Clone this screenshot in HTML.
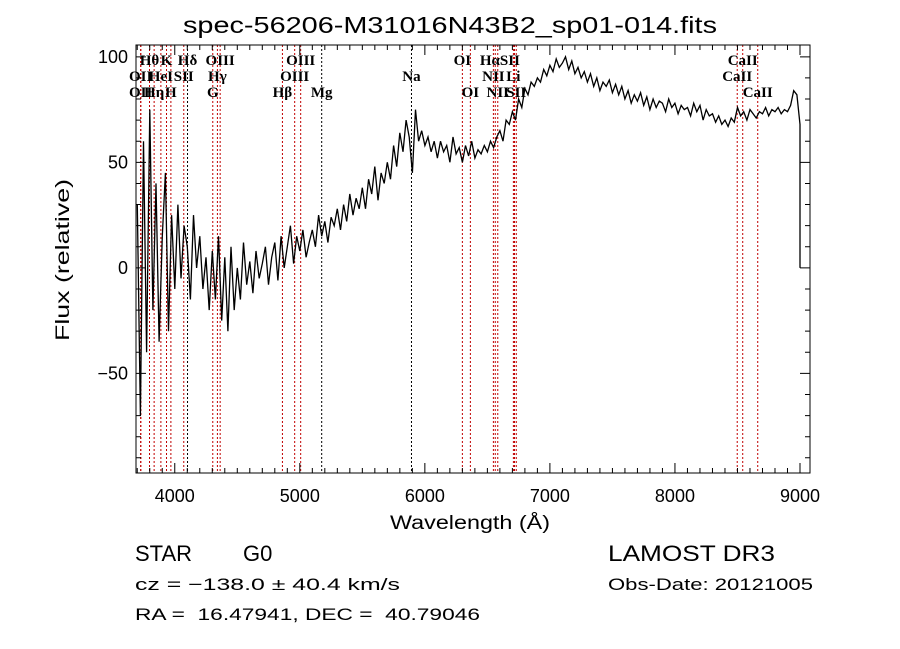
<!DOCTYPE html>
<html><head><meta charset="utf-8"><style>
html,body{margin:0;padding:0;background:#fff;}
svg{display:block;}
text{font-family:"Liberation Sans",sans-serif;fill:#000;white-space:pre;}
text.lab{font-family:"Liberation Serif",serif;font-size:15px;font-weight:bold;}
</style></head><body>
<svg id="chart" width="900" height="649" viewBox="0 0 900 649" xml:space="preserve">
<text x="450" y="33" text-anchor="middle" font-size="23" textLength="534" lengthAdjust="spacingAndGlyphs">spec-56206-M31016N43B2_sp01-014.fits</text>
<g id="lines"></g>
<g id="labels"></g>
<g id="spec"></g>
<g id="axes"></g>
<text x="470" y="529" text-anchor="middle" font-size="19" textLength="160" lengthAdjust="spacingAndGlyphs">Wavelength (Å)</text>
<text transform="translate(69,260) rotate(-90)" text-anchor="middle" font-size="19" textLength="162" lengthAdjust="spacingAndGlyphs">Flux (relative)</text>
<text x="135" y="561" font-size="22">STAR</text>
<text x="243" y="561" font-size="22">G0</text>
<text x="608" y="561" font-size="22" textLength="167" lengthAdjust="spacingAndGlyphs">LAMOST DR3</text>
<text x="135" y="590" font-size="17" textLength="265" lengthAdjust="spacingAndGlyphs">cz = −138.0 ± 40.4 km/s</text>
<text x="608" y="590" font-size="17" textLength="205" lengthAdjust="spacingAndGlyphs">Obs-Date: 20121005</text>
<text x="135" y="620" font-size="17" textLength="345" lengthAdjust="spacingAndGlyphs">RA =  16.47941, DEC =  40.79046</text>
</svg>
<script>
const wlStart = 3700;
const wlStep = 25;
const flux = [
30,-70,60,-40,75,-20,40,-35,
15,45,-30,25,-10,30,-5,20,
10,-15,25,0,15,-10,5,-20,
8,-15,15,-25,5,-30,10,-20,
0,-15,12,-8,3,-12,8,-5,
2,10,-8,5,12,-6,15,0,
10,20,2,15,8,18,5,12,
18,10,25,15,22,12,24,20,
28,18,30,22,35,25,33,28,
38,28,42,35,48,32,45,40,
50,42,58,48,64,55,70,62,
45,75,60,65,58,62,55,60,
52,60,55,58,50,62,54,57,
50,58,53,60,52,56,54,58,
55,60,57,62,65,60,70,68,
74,70,80,76,85,82,88,86,
90,88,94,91,96,93,99,95,
97,100,94,98,92,95,90,93,
88,92,86,90,84,88,86,89,
83,87,82,86,80,84,78,82,
79,83,77,81,75,80,76,79,
78,74,80,76,78,73,77,75,
76,72,78,74,77,70,75,72,
73,69,72,68,70,67,71,69,
76,72,74,70,75,73,71,74,
73,76,72,75,74,76,73,75,
74,77,84,82,68,0];
const lineWl = [3727,3729,3798,3835,3889,3934,3969,4072,4102,4304,4341,4363,4861,4959,5007,5175,5893,6300,6364,6548,6563,6583,6708,6717,6731,8498,8542,8662];
const lineBlack = [5175,5893,4102];
const labelText = ["Hθ","K","Hδ","OIII","OIII","OI","HαSII","CaII","OII","HeI","SII","Hγ","OIII","Na","NII","Li","CaII","OII","Hη","H","G","Hβ","Mg","OI","NII","SII","CaII"];
const labelWl = [3798,3934,4102,4363,5007,6300,6600,8542,3727,3889,4072,4341,4959,5893,6548,6708,8498,3727,3835,3969,4304,4861,5175,6364,6583,6731,8662];
const labelRow = [0,0,0,0,0,0,0,0,1,1,1,1,1,1,1,1,1,2,2,2,2,2,2,2,2,2,2];
const xTicks = [4000,5000,6000,7000,8000,9000];
const yTicks = [-50,0,50,100];

const X0=136,X1=810,Y0=45,Y1=473;
const xMin=3690,xMax=9080,yMin=-97.2,yMax=105.6;
const sx=v=>X0+(v-xMin)/(xMax-xMin)*(X1-X0);
const sy=v=>Y1-(v-yMin)/(yMax-yMin)*(Y1-Y0);
const NS='http://www.w3.org/2000/svg';
function mk(tag,parent){const e=document.createElementNS(NS,tag);parent.appendChild(e);return e;}

const gl=document.getElementById('lines');
lineWl.forEach(w=>{
 const l=mk('line',gl);
 
 
 l.setAttribute('x1',sx(w));l.setAttribute('x2',sx(w));l.setAttribute('y1',Y0);l.setAttribute('y2',Y1);
 l.setAttribute('stroke',lineBlack.includes(w)?'#000':'#c00000');l.setAttribute('stroke-width','1');l.setAttribute('stroke-dasharray','2,2');
});
const glab=document.getElementById('labels');
labelText.forEach((t,i)=>{
 const e=mk('text',glab);
 
 
 e.setAttribute('class','lab');
 e.setAttribute('font-size','15');
 e.setAttribute('x',sx(labelWl[i]));e.setAttribute('y',65+labelRow[i]*16);
 e.setAttribute('text-anchor','middle');
 e.textContent=t;
});
const gs=document.getElementById('spec');
let d='';
flux.forEach((f,i)=>{
 let w=wlStart+i*wlStep; if(i===flux.length-1) w=9000;
 d+=(i?'L':'M')+sx(w).toFixed(1)+','+sy(f).toFixed(1);
});
const p=mk('path',gs);


p.setAttribute('d',d);p.setAttribute('fill','none');p.setAttribute('stroke','#000');p.setAttribute('stroke-width','1.3');

const ga=document.getElementById('axes');
const r=mk('rect',ga);


r.setAttribute('x',X0);r.setAttribute('y',Y0);r.setAttribute('width',X1-X0);r.setAttribute('height',Y1-Y0);
r.setAttribute('fill','none');r.setAttribute('stroke','#000');r.setAttribute('stroke-width','1');
let td='';
for(let w=3700;w<=9000;w+=100){const x=sx(w);const L=(w%1000===0)?10:5;td+=`M${x},${Y1}v${-L}M${x},${Y0}v${L}`;}
for(let v=-90;v<=100;v+=10){const y=sy(v);const L=(v%50===0)?10:5;td+=`M${X0},${y}h${L}M${X1},${y}h${-L}`;}
const tk=mk('path',ga);


tk.setAttribute('d',td);tk.setAttribute('stroke','#000');tk.setAttribute('fill','none');
xTicks.forEach(w=>{
 const e=mk('text',ga);
 
 
 e.setAttribute('x',sx(w));e.setAttribute('y',502);e.setAttribute('text-anchor','middle');e.setAttribute('font-size','18');
 e.textContent=String(w);
});
yTicks.forEach(v=>{
 const e=mk('text',ga);
 
 
 e.setAttribute('x',128);e.setAttribute('y',sy(v)+6);e.setAttribute('text-anchor','end');e.setAttribute('font-size','18');
 e.textContent=v<0?'−'+Math.abs(v):String(v);
});
</script>
</body></html>
